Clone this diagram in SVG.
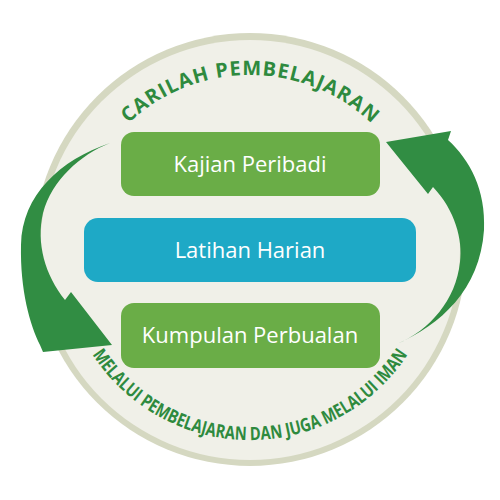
<svg xmlns="http://www.w3.org/2000/svg" width="500" height="500" viewBox="0 0 500 500">
<style>
.box{fill:#6aad47}
.blue{fill:#1ea9c6}
.lbl{font-family:"Open Sans","Noto Sans",sans-serif;font-size:22px;fill:#ffffff;text-anchor:middle}
.arc{font-family:"Open Sans","Noto Sans",sans-serif;font-weight:bold;fill:#2e8a3e}
.arrow{fill:#318d43}
</style>
<defs>
<path id="topArc" d="M 96.7 163.5 A 177 177 0 0 1 403.3 163.5"/>
<path id="botArc" d="M 73.3 316.3 A 188 188 0 0 0 426.7 316.3"/>
</defs>
<g id="background">
<circle cx="250" cy="249.5" r="216.5" fill="#d5d8c1"/>
<circle cx="250" cy="250" r="210" fill="#f0f0e8"/>
</g>
<g id="arc-texts">
<text class="arc" font-size="20"><textPath href="#topArc" startOffset="50%" text-anchor="middle" textLength="268" lengthAdjust="spacing">CARILAH PEMBELAJARAN</textPath></text>
<text class="arc" font-size="18.5"><textPath href="#botArc" startOffset="50%" text-anchor="middle" textLength="374" lengthAdjust="spacingAndGlyphs">MELALUI PEMBELAJARAN DAN JUGA MELALUI IMAN</textPath></text>
</g>
<g id="connectors">
<path class="arrow" d="M 110 143 C 60 160 22 195 21 245 C 20 290 30 325 40 345 L 43 352 L 112 345 L 71 292 L 65 300 C 45 275 36 243 43 213 C 52 180 80 155 110 143 Z"/>
<path class="arrow" d="M 397 344 C 440 325 480 290 484 230 C 486 190 470 160 448 140 L 451 131 L 386 142 L 428 194 L 433 187 C 455 210 463 240 460 262 C 456 300 430 330 397 344 Z"/>
</g>
<g id="node-kajian">
<rect class="box" x="121" y="132" width="259" height="64" rx="13"/>
<text class="lbl" x="250" y="172">Kajian Peribadi</text>
</g>
<g id="node-latihan">
<rect class="blue" x="84" y="218" width="332" height="64" rx="14"/>
<text class="lbl" x="250" y="258">Latihan Harian</text>
</g>
<g id="node-kumpulan">
<rect class="box" x="121" y="303" width="259" height="65" rx="13"/>
<text class="lbl" x="250" y="343">Kumpulan Perbualan</text>
</g>
</svg>
